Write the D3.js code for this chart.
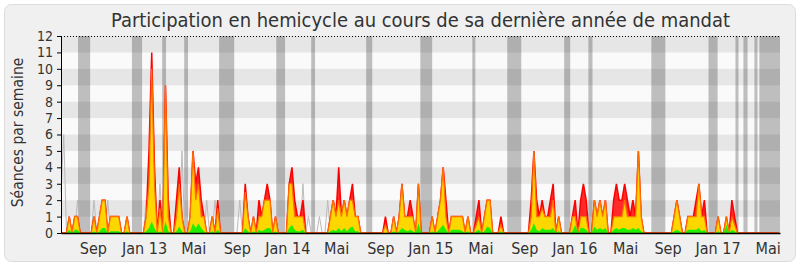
<!DOCTYPE html>
<html>
<head>
<meta charset="utf-8">
<script src="https://cdn.jsdelivr.net/npm/d3@7"></script>
<style>
  body { margin: 0; background: #fff; }
  text { font-family: "DejaVu Sans Condensed", "DejaVu Sans", sans-serif; fill: #333; }
</style>
</head>
<body>
<div id="chart"></div>
<script>
// weekly values, week 0 = mid June 2012
var red = [
  0,0,0,1,0,1,1,0,0,0,   0,0,1,0,1,2,2,0,1,1,
  1,1,0,0,1,0,0,0,0,0,   0,1,5,11,4,0,2,0,9,2,
  0,0,2,4,1,0,0,1,5,3,   4,2,1,0,0,1,0,2,0,0,
  0,0,0,0,0,0,0,3,1,0,   1,0,2,1,2,3,2,0,1,0,
  0,0,0,3,4,2,1,1,2,0,   0,0,0,0,0,0,0,0,1,2,
  1,4,1,2,1,2,3,1,1,0,   0,0,0,0,0,0,0,0,1,0,
  0,1,0,1,3,1,1,2,1,0,   3,0,0,0,0,1,0,1,2,4,
  2,0,1,1,1,1,1,0,1,0,   0,1,2,0,1,2,2,0,0,0,
  1,0,0,0,0,0,0,0,0,0,   0,2,5,2,1,2,1,1,2,3,
  0,1,0,0,0,0,1,2,0,2,   3,2,0,0,2,1,2,1,2,0,
  0,2,3,2,2,3,2,1,2,1,   5,1,0,0,0,0,0,0,0,0,
  0,0,0,1,2,1,0,0,1,1,   1,2,3,1,2,0,0,0,0,1,
  0,0,1,0,2,1,0,0,0,0,   0,0,0,0,0,0,0,0,0,0,
  0,0
];
var yellow = [
  0,0,0,1,0,1,1,0,0,0,   0,0,1,0,1,2,2,0,1,1,
  1,1,0,0,1,0,0,0,0,0,   0,1,3,10,3,0,1.5,0,9,1,
  0,0,1,3,1,0,0,1,5,2,   3,1,1,0,0,1,0,1.5,0,0,
  0,0,0,0,0,0,0,2.5,1,0, 1,0,1,1,2,2,2,0,1,0,
  0,0,0,3,3,1,1,1,1,0,   0,0,0,0,0,0,0,0,1,2,
  1,2,1,2,1,2,2,1,1,0,   0,0,0,0,0,0,0,0,0.5,0,
  0,1,0,1,3,1,1,1,1,0,   3,0,0,0,0,1,0,1,2,4,
  1,0,1,1,1,1,1,0,1,0,   0,0.5,1,0,1,2,2,0,0,0,
  0.5,0,0,0,0,0,0,0,0,0, 0,1,5,1,1,1.5,1,1,1,2,
  0,1,0,0,0,0,1,1,0,1,   1,1,0,0,2,1,2,1,2,0,
  0,1,1,1,1,2,1,1,1,1,   5,1,0,0,0,0,0,0,0,0,
  0,0,0,1,2,1,0,0,1,1,   1,1,3,1,1,0,0,0,0,1,
  0,0,1,0,1,0.5,0,0,0,0, 0,0,0,0,0,0,0,0,0,0,
  0,0
];
var green = [
  0,0,0,0.2,0,0.2,0.2,0,0,0,         0,0,0.1,0,0.1,0.3,0.3,0,0.1,0.1,
  0.1,0.1,0,0,0.1,0,0,0,0,0,         0,0.1,0.3,0.7,0.3,0,0.1,0,0.7,0.1,
  0,0,0.1,0.4,0.1,0,0,0.1,0.6,0.3,   0.6,0.3,0.1,0,0,0.1,0,0.2,0,0,
  0,0,0,0,0,0,0,0.3,0.1,0,           0.1,0,0.2,0.1,0.2,0.3,0.3,0,0.1,0,
  0,0,0,0.3,0.5,0.2,0.1,0.1,0.2,0,   0,0,0,0,0,0,0,0,0.1,0.2,
  0.1,0.3,0.1,0.3,0.1,0.3,0.4,0.1,0.1,0, 0,0,0,0,0,0,0,0,0,0,
  0,0.1,0,0.1,0.3,0.2,0.1,0.2,0.1,0, 0.6,0,0,0,0,0.1,0,0.1,0.3,0.5,
  0.2,0,0.2,0.2,0.2,0.2,0.1,0,0.1,0, 0,0.1,0.2,0,0.1,0.4,0.3,0,0,0,
  0.1,0,0,0,0,0,0,0,0,0,             0,0.2,0.6,0.2,0.1,0.3,0.2,0.2,0.2,0.3,
  0,0.1,0,0,0,0,0.1,0.5,0,0.3,       0.3,0.2,0,0,0.4,0.2,0.3,0.2,0.3,0,
  0,0.2,0.3,0.2,0.3,0.3,0.2,0.2,0.3,0.2, 0.3,0.1,0,0,0,0,0,0,0,0,
  0,0,0,0.1,0.2,0.1,0,0,0.2,0.2,     0.2,0.2,0.3,0.1,0.2,0,0,0,0,0.1,
  0,0,0.5,0,0.2,0.1,0,0,0,0,         0,0,0,0,0,0,0,0,0,0,
  0,0
];
// grey line: median weekly sessions
var median = [
  2.5,6,0,0,0,0,2,0,0,0,  0,0,2,0,0,0,0,2,0,0,
  0,0,0,0,0,0,0,0,0,0,    0,2,0,0,0,0,3,0,0,0,
  0,0,0,0,5,0,0,0,0,0,    0,0,0,2,0,0,2,0,0,0,
  0,0,0,0,0,2,0,0,0,0,    0,0,0,0,0,0,0,0,0,0,
  0,0,0,0,0,0,0,0,3,0,    1,0,0,0,1,0,0,2,0,0
];
// vacation periods, in weeks
var vacations = [
  [6.2,10.6],[25.8,29.5],[36.8,38.2],[44.8,46.2],[57.5,63],
  [78.3,81.5],[91,92.4],[111,113.2],[130.7,135],[149.6,150.7],
  [162.3,167.4],[183,185.2],[191.8,193.3],[214.7,219.8],[235.5,238.8],
  [245.3,246.4],[248.2,249.7],[252.2,253.3],[254,261.5]
];
var tickWeeks = [11.6,30.2,48.1,63.9,82.3,100.1,116.1,134.3,152.5,168.5,186.7,205.2,220.6,238.8,257.0];
var tickLabels = ["Sep","Jan 13","Mai","Sep","Jan 14","Mai","Sep","Jan 15","Mai","Sep","Jan 16","Mai","Sep","Jan 17","Mai"];

var svgWidth = 800;
var svgHeight = 267;
var margin = {top: 36, right: 20, bottom: 34, left: 61};
var chartWidth = svgWidth - margin.left - margin.right;
var chartHeight = svgHeight - margin.top - margin.bottom;

var svg = d3.select("#chart").append("svg")
  .attr("width", svgWidth)
  .attr("height", svgHeight);

// outer frame
svg.append("rect")
  .attr("x", 4.5).attr("y", 4.5)
  .attr("width", 791).attr("height", 257)
  .attr("rx", 7)
  .attr("fill", "#f0f0f0")
  .attr("stroke", "#dcdcdc");

svg.append("text")
  .attr("x", margin.left + chartWidth / 2)
  .attr("y", 27)
  .attr("text-anchor", "middle")
  .attr("textLength", 619)
  .attr("lengthAdjust", "spacingAndGlyphs")
  .style("font-size", "20px")
  .text("Participation en hemicycle au cours de sa dernière année de mandat");

var chartGroup = svg.append("g")
  .attr("transform", `translate(${margin.left}, ${margin.top})`);

var xScale = d3.scaleLinear().domain([0, 261.5]).range([0, chartWidth]);
var yScale = d3.scaleLinear().domain([0, 12]).range([chartHeight, 0]);

// horizontal bands
chartGroup.append("g").selectAll("rect")
  .data(d3.range(12))
  .enter()
  .append("rect")
  .attr("x", 0)
  .attr("y", d => yScale(d + 1))
  .attr("width", chartWidth)
  .attr("height", d => yScale(d) - yScale(d + 1))
  .attr("fill", d => d % 2 == 0 ? "#fafafa" : "#e6e6e6");

// vacations
chartGroup.append("g").selectAll("rect")
  .data(vacations)
  .enter()
  .append("rect")
  .attr("x", d => xScale(d[0]))
  .attr("y", 0)
  .attr("width", d => xScale(d[1]) - xScale(d[0]))
  .attr("height", chartHeight)
  .attr("fill", "#000")
  .attr("opacity", 0.24);

var area = values => d3.area()
  .x((d, i) => xScale(i))
  .y0(chartHeight)
  .y1(d => yScale(d))(values);
var line = values => d3.line()
  .x((d, i) => xScale(i))
  .y(d => yScale(d))(values);

chartGroup.append("path")
  .attr("d", line(median))
  .attr("fill", "none")
  .attr("stroke", "#bbb")
  .attr("stroke-width", 1);

chartGroup.append("path")
  .attr("d", area(red))
  .attr("fill", "#ff2a2a")
  .attr("stroke", "#ff0000")
  .attr("stroke-width", 1.5);

chartGroup.append("path")
  .attr("d", area(yellow))
  .attr("fill", "#ffd700");
chartGroup.append("path")
  .attr("d", line(yellow))
  .attr("fill", "none")
  .attr("stroke", "#ff7000")
  .attr("stroke-width", 1.2);

chartGroup.append("path")
  .attr("d", area(green))
  .attr("fill", "#22ee00");

// top dotted line
chartGroup.append("line")
  .attr("x1", 0).attr("x2", chartWidth)
  .attr("y1", 0.5).attr("y2", 0.5)
  .attr("stroke", "#000")
  .attr("stroke-dasharray", "1,2");

// axes
var yAxis = d3.axisLeft(yScale).ticks(12).tickSize(4).tickSizeOuter(0);
var yG = chartGroup.append("g").call(yAxis);
yG.selectAll("text").style("font-size", "14px").attr("fill", "#333").attr("x", -8);
yG.select(".domain").attr("stroke", "#000");

var xAxis = d3.axisBottom(xScale)
  .tickValues(tickWeeks)
  .tickFormat((d, i) => tickLabels[i])
  .tickSize(0).tickSizeOuter(0);
var xG = chartGroup.append("g")
  .attr("transform", `translate(0, ${chartHeight})`)
  .call(xAxis);
xG.selectAll("text").style("font-size", "16px").attr("fill", "#333").attr("dy", "1.1em");
xG.select(".domain").attr("stroke", "#000").attr("stroke-width", 1.5);

chartGroup.append("text")
  .attr("transform", "rotate(-90)")
  .attr("x", -chartHeight / 2 + 2)
  .attr("y", -38)
  .attr("text-anchor", "middle")
  .style("font-size", "15.5px")
  .text("Séances par semaine");
</script>
</body>
</html>
